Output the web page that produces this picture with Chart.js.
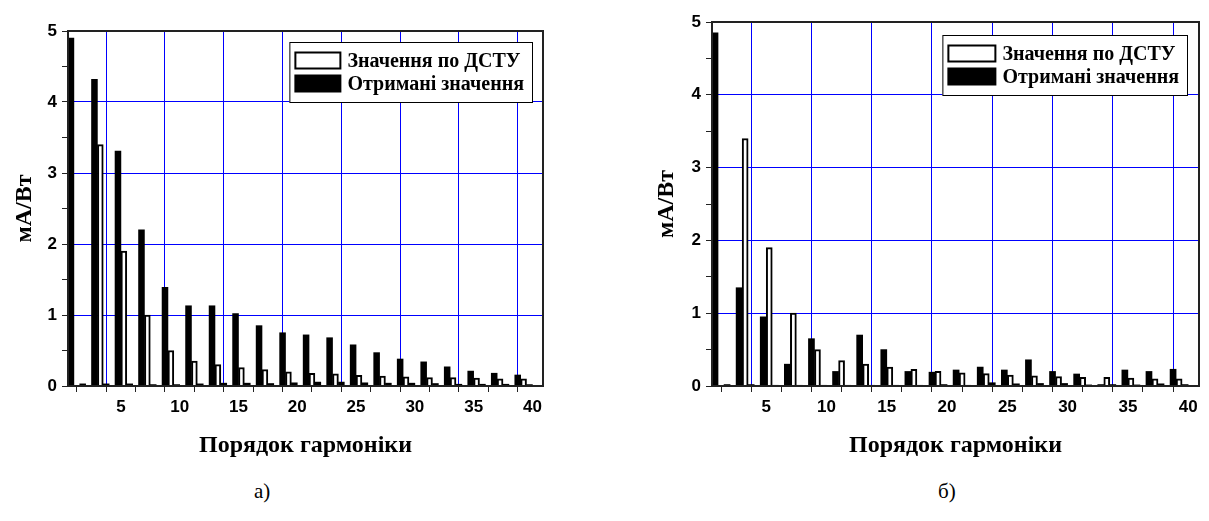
<!DOCTYPE html>
<html>
<head>
<meta charset="utf-8">
<script src="https://cdn.jsdelivr.net/npm/chart.js@4.4.1/dist/chart.umd.min.js"></script>
<style>
  body { margin: 0; background: #fff; width: 1209px; height: 521px; position: relative; overflow: hidden; }
  .box { position: absolute; top: 0; height: 460px; }
  .cap { position: absolute; top: 479px; line-height: 26px; font: 21px 'Liberation Serif', serif; color: #000; }
</style>
</head>
<body>
<div class="box" style="left:0;width:600px"><canvas id="chartA"></canvas></div>
<div class="box" style="left:600px;width:609px"><canvas id="chartB"></canvas></div>
<div class="cap" style="left:254px">а)</div>
<div class="cap" style="left:938px">б)</div>
<script>
// порядок гармоніки
const harmonics = [1,2,3,4,5,6,7,8,9,10,11,12,13,14,15,16,17,18,19,20,
                   21,22,23,24,25,26,27,28,29,30,31,32,33,34,35,36,37,38,39,40];

// Значення по ДСТУ (мА/Вт)
const dstuValues = [0,0,3.4,0,1.9,0,1.0,0,0.5,0,0.35,0,0.3,0,0.26,0,0.23,0,0.2,0,
                    0.18,0,0.17,0,0.15,0,0.14,0,0.13,0,0.12,0,0.12,0,0.11,0,0.1,0,0.1,0];

// Отримані значення, рис. а)
const measuredA = [4.9,0.03,4.32,0.03,3.31,0.03,2.2,0.02,1.39,0.02,1.13,0.03,1.13,0.04,1.02,0.04,0.85,0.035,0.75,0.045,
                   0.72,0.055,0.68,0.055,0.58,0.045,0.47,0.04,0.38,0.04,0.34,0.035,0.27,0.025,0.21,0.025,0.18,0.025,0.155,0.02];

// Отримані значення, рис. б)
const measuredB = [4.85,0.02,1.35,0.02,0.95,0.01,0.3,0.01,0.65,0.01,0.2,0.01,0.7,0.01,0.5,0.01,0.2,0.01,0.19,0.02,
                   0.22,0.01,0.26,0.045,0.22,0.03,0.36,0.035,0.2,0.035,0.165,0.015,0.02,0.02,0.22,0.015,0.2,0.03,0.23,0.02];

const xTicks = [2.5,5,7.5,10,12.5,15,17.5,20,22.5,25,27.5,30,32.5,35,37.5,40];
const yTicks = [0,0.5,1,1.5,2,2.5,3,3.5,4,4.5,5];

const gridBlue = '#0000ff';
const axisDark = '#222';

// рамка навколо області графіка
const frame = {
  id: 'frame',
  afterDatasetsDraw(chart) {
    const a = chart.chartArea, ctx = chart.ctx;
    ctx.save();
    ctx.strokeStyle = axisDark;
    ctx.lineWidth = 2;
    ctx.strokeRect(a.left, a.top, a.right - a.left, a.bottom - a.top);
    ctx.restore();
  }
};

// легенда в рамці всередині графіка
const boxLegend = {
  id: 'boxLegend',
  afterDraw(chart, args, opts) {
    const ctx = chart.ctx, a = chart.chartArea;
    const items = chart.data.datasets.slice().reverse();
    ctx.save();
    ctx.font = 'bold 20px "Liberation Serif"';
    const textW = Math.max(...items.map(d => ctx.measureText(d.label).width));
    const w = 5 + opts.swatchW + 6 + textW + 8;
    const h = 7 * 2 + items.length * opts.row;
    const x = a.right - opts.gapX - w;
    const y = a.top + opts.gapY;
    ctx.fillStyle = '#fff';
    ctx.fillRect(x, y, w, h);
    ctx.strokeStyle = '#000';
    ctx.lineWidth = 1;
    ctx.strokeRect(x + 0.5, y + 0.5, w, h);
    items.forEach((d, i) => {
      const ry = y + 7 + i * opts.row;
      const sy = ry + (opts.row - 18) / 2;
      ctx.fillStyle = d.backgroundColor;
      ctx.fillRect(x + 5, sy, opts.swatchW, 18);
      if (d.borderWidth) {
        ctx.strokeStyle = d.borderColor;
        ctx.lineWidth = 2;
        ctx.strokeRect(x + 6, sy + 1, opts.swatchW - 2, 16);
      }
      ctx.fillStyle = '#000';
      ctx.textBaseline = 'middle';
      ctx.fillText(d.label, x + 5 + opts.swatchW + 6, ry + opts.row / 2 + 1);
    });
    ctx.restore();
  }
};

function makeChart(id, measured, pad, yWidth, legendOpts) {
  const ctx = document.getElementById(id).getContext('2d');
  return new Chart(ctx, {
    type: 'bar',
    data: {
      datasets: [{
        label: 'Отримані значення',
        data: harmonics.map((h, i) => ({x: h, y: measured[i]})),
        backgroundColor: '#000',
        borderWidth: 0
      }, {
        label: 'Значення по ДСТУ',
        data: harmonics.map((h, i) => ({x: h, y: dstuValues[i]})),
        backgroundColor: '#fff',
        borderColor: '#000',
        borderWidth: 2
      }]
    },
    options: {
      responsive: true,
      maintainAspectRatio: false,
      animation: false,
      categoryPercentage: 1.0,
      barPercentage: 1.0,
      layout: { padding: pad },
      plugins: {
        legend: { display: false },
        tooltip: { enabled: false },
        boxLegend: legendOpts
      },
      scales: {
        x: {
          type: 'linear',
          min: 0.5,
          max: 40.9,
          offset: false,
          afterBuildTicks: s => { s.ticks = xTicks.map(v => ({value: v})); },
          afterFit: s => { s.height = 74; },
          ticks: {
            autoSkip: false,
            maxRotation: 0,
            padding: 5,
            color: '#000',
            font: { family: 'Liberation Sans', weight: 'bold', size: 17 },
            callback: v => (v % 5 === 0 ? v : '')
          },
          grid: {
            color: c => (c.tick && c.tick.value % 5 === 0 ? gridBlue : 'rgba(0,0,0,0)'),
            tickColor: axisDark,
            tickLength: 6,
            lineWidth: 1
          },
          border: { display: true, color: axisDark, width: 2 },
          title: {
            display: true,
            text: 'Порядок гармоніки',
            color: '#000',
            padding: { top: 0, bottom: 0 },
            font: { family: 'Liberation Serif', weight: 'bold', size: 24 }
          }
        },
        y: {
          min: 0,
          max: 5,
          afterBuildTicks: s => { s.ticks = yTicks.map(v => ({value: v})); },
          afterFit: s => { s.width = yWidth; },
          ticks: {
            padding: 5,
            color: '#000',
            font: { family: 'Liberation Sans', weight: 'bold', size: 17 },
            callback: v => (v % 1 === 0 ? v : '')
          },
          grid: {
            color: c => (c.tick && c.tick.value % 1 === 0 ? gridBlue : 'rgba(0,0,0,0)'),
            tickColor: axisDark,
            tickLength: 6,
            lineWidth: 1
          },
          border: { display: true, color: axisDark, width: 2 },
          title: {
            display: true,
            text: 'мА/Вт',
            color: '#000',
            padding: 0,
            font: { family: 'Liberation Serif', weight: 'bold', size: 24 }
          }
        }
      }
    },
    plugins: [frame, boxLegend]
  });
}

makeChart('chartA', measuredA, { left: 10, right: 57, top: 31, bottom: 0 }, 58,
  { gapX: 11, gapY: 11, swatchW: 47, row: 23 });
makeChart('chartB', measuredB, { left: 52, right: 10, top: 22, bottom: 0 }, 60,
  { gapX: 12, gapY: 13, swatchW: 49, row: 23 });
</script>
</body>
</html>
